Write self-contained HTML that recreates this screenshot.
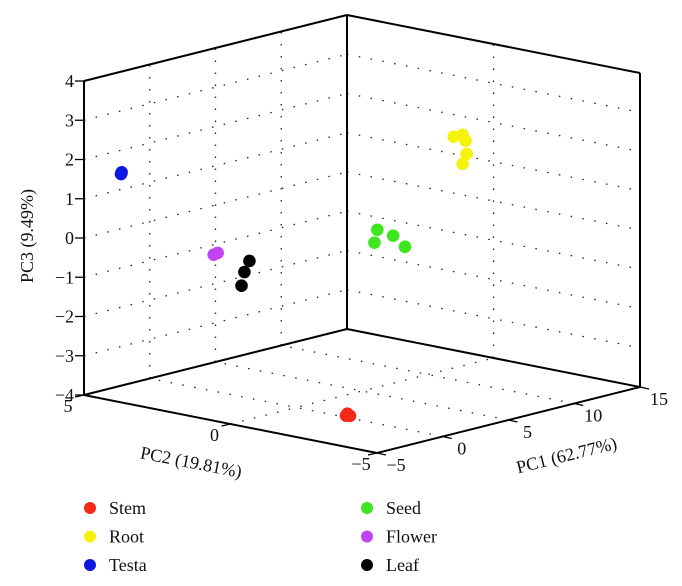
<!DOCTYPE html>
<html><head><meta charset="utf-8"><style>
html,body{margin:0;padding:0;background:#fff;}
svg{display:block;font-family:"Liberation Serif",serif;}
</style></head><body>
<svg id="chart" width="682" height="586" viewBox="0 0 682 586" xmlns="http://www.w3.org/2000/svg"></svg>
<script>
const pc1Ticks=[-5,0,5,10,15];
const pc2Ticks=[-5,0,5];
const pc3Ticks=[-4,-3,-2,-1,0,1,2,3,4];
const groups=["Stem","Root","Testa","Seed","Flower","Leaf"];
const colors=["#f5281a","#f5f20c","#0c18e0","#3ee61e","#c244f0","#000000"];
const pc1Vals=[[-2.8,-2.6,-2.9],[5.29,5.97,6.19,6.27,5.97],[-3.3,-3.25],[1.71,2.91,1.49,3.81],[-1.82,-1.52],[-0.22,-0.6,-0.82]];
const pc2Vals=[[-3,-3,-3],[-3,-3,-3,-3,-3],[4.5,4.5],[-2,-2,-2,-2],[2,2],[1.5,1.5,1.5]];
const pc3Vals=[[-3.48,-3.55,-3.52],[2.9,2.89,2.72,2.38,2.15],[1.56,1.6],[0.68,0.43,0.37,0.07],[-0.25,-0.23],[-0.47,-0.72,-1.05]];

const svg=document.getElementById('chart');
const NS="http://www.w3.org/2000/svg";
const F=[377,453], R=[640,387], L=[84,395], VZ=39.25;
function P(p1,p2,p3){
  const a=(p1+5)/20,b=(p2+5)/10,c=(p3+4);
  return [F[0]+a*(R[0]-F[0])+b*(L[0]-F[0]), F[1]+a*(R[1]-F[1])+b*(L[1]-F[1])-c*VZ];
}
function el(tag,attrs){const e=document.createElementNS(NS,tag);for(const k in attrs)e.setAttribute(k,attrs[k]);svg.appendChild(e);return e;}
function line(p,q,dotted){
  const e=el('line',{x1:p[0],y1:p[1],x2:q[0],y2:q[1],stroke:dotted?'#222':'#000','stroke-width':dotted?1.3:2});
  if(dotted){e.setAttribute('stroke-dasharray','1.5 10.5');}
  return e;
}
function txt(x,y,s,size,anchor,rot){
  const t=el('text',{x:x,y:y,'font-size':size,'text-anchor':anchor||'middle',fill:'#111'});
  if(rot)t.setAttribute('transform','rotate('+rot+' '+x+' '+y+')');
  t.textContent=s;return t;
}
pc3Ticks.slice(1,-1).forEach(z=>{
  let g=line(P(-5,5,z),P(15,5,z),true);
  
  
  g=line(P(15,5,z),P(15,-5,z),true);
  
  
});
pc1Ticks.slice(1,-1).forEach(v=>{
  let g=line(P(v,5,-4),P(v,5,4),true);
  
  
  g=line(P(v,-5,-4),P(v,5,-4),true);
  
  
});
pc2Ticks.slice(1,-1).forEach(v=>{
  let g=line(P(15,v,-4),P(15,v,4),true);
  
  
  g=line(P(-5,v,-4),P(15,v,-4),true);
  
  
});
[[[-5,5,-4],[-5,5,4]],[[15,5,-4],[15,5,4]],[[15,-5,-4],[15,-5,4]],
 [[-5,5,4],[15,5,4]],[[15,5,4],[15,-5,4]],
 [[-5,5,-4],[15,5,-4]],[[15,5,-4],[15,-5,-4]],
 [[-5,5,-4],[-5,-5,-4]],[[-5,-5,-4],[15,-5,-4]]].forEach(s=>{
  const e=line(P(...s[0]),P(...s[1]),false);
  
  
});
pc3Ticks.forEach(z=>{
  const p=P(-5,5,z);
  const t=line([p[0]-9,p[1]],p,false);t.setAttribute('stroke-width',1.3);
  
  
  const l=txt(p[0]-10,p[1]+6,(z<0?'\u2212':'')+Math.abs(z),18,'end');
  
  
});
pc1Ticks.forEach(v=>{
  const p=P(v,-5,-4);
  const t=line(p,[p[0]+9,p[1]+2],false);t.setAttribute('stroke-width',1.3);
  
  
  const l=txt(p[0]+19,p[1]+18,(v<0?'\u2212':'')+Math.abs(v),18,'middle');
  
  
});
pc2Ticks.forEach(v=>{
  const p=P(-5,v,-4);
  const t=line(p,[p[0]-9,p[1]+2],false);t.setAttribute('stroke-width',1.3);
  
  
  const l=txt(p[0]-16,p[1]+17,(v<0?'\u2212':'')+Math.abs(v),18,'middle');
  
  
});
let a=txt(190,468,'PC2 (19.81%)',18,'middle',11);


a=txt(568,461,'PC1 (62.77%)',18,'middle',-14);


a=txt(33,236,'PC3 (9.49%)',18,'middle',-90);


groups.forEach((g,i)=>{
  pc1Vals[i].forEach((v,j)=>{
    const p=P(v,pc2Vals[i][j],pc3Vals[i][j]);
    const c=el('circle',{cx:p[0],cy:p[1],r:6.3,fill:colors[i]});
    
    
  });
});
groups.forEach((g,i)=>{
  const col=Math.floor(i/3),row=i%3;
  const x=col?367:90, y=508+row*28.5;
  const c=el('circle',{cx:x,cy:y,r:6,fill:colors[i]});
  
  
  const t=txt(x+19,y+6,g,18,'start');
  
  
});
</script>
</body></html>
